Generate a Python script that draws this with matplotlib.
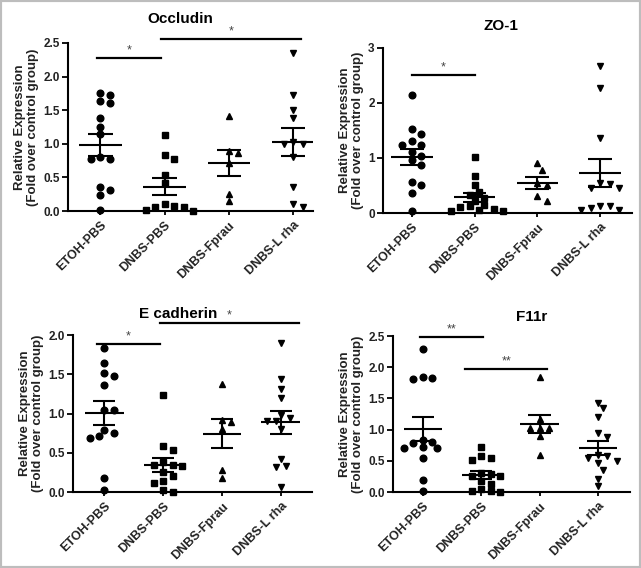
import numpy as np
import matplotlib.pyplot as plt
from matplotlib.patches import Rectangle

plt.rcParams['font.family'] = ['Liberation Sans', 'DejaVu Sans']

groups = ['ETOH-PBS', 'DNBS-PBS', 'DNBS-Fprau', 'DNBS-L rha']
markers = ['o', 's', '^', 'v']
ylab = 'Relative Expression\n(Fold over control group)'

# values
occludin = [
    [1.76, 1.73, 1.64, 1.60, 1.39, 1.25, 1.14, 0.81, 0.78, 0.77, 0.36, 0.31, 0.24, 0.02],
    [1.13, 0.83, 0.78, 0.54, 0.42, 0.10, 0.07, 0.06, 0.06, 0.02, 0.0],
    [1.41, 0.89, 0.87, 0.72, 0.26, 0.15],
    [2.35, 1.73, 1.50, 1.39, 1.02, 1.00, 1.00, 0.81, 0.36, 0.10, 0.06],
]
zo1 = [
    [2.14, 1.53, 1.44, 1.30, 1.23, 1.23, 1.10, 1.04, 0.97, 0.88, 0.57, 0.50, 0.37, 0.03],
    [1.01, 0.68, 0.50, 0.38, 0.33, 0.28, 0.22, 0.15, 0.12, 0.10, 0.08, 0.05, 0.04, 0.03],
    [0.90, 0.78, 0.55, 0.50, 0.30, 0.21],
    [2.67, 2.28, 1.36, 0.54, 0.52, 0.46, 0.46, 0.12, 0.12, 0.09, 0.06, 0.06],
]
ecad = [
    [1.83, 1.64, 1.51, 1.48, 1.36, 1.04, 1.04, 0.79, 0.75, 0.71, 0.69, 0.18, 0.02],
    [1.24, 0.59, 0.53, 0.38, 0.35, 0.35, 0.33, 0.26, 0.20, 0.14, 0.12, 0.03, 0.0],
    [1.38, 0.92, 0.89, 0.80, 0.28, 0.18],
    [1.90, 1.44, 1.31, 1.20, 0.98, 0.94, 0.91, 0.91, 0.80, 0.42, 0.33, 0.32, 0.07],
]
f11r = [
    [2.30, 1.85, 1.82, 1.81, 0.84, 0.80, 0.78, 0.72, 0.70, 0.70, 0.55, 0.19, 0.01],
    [0.72, 0.57, 0.54, 0.51, 0.31, 0.29, 0.26, 0.25, 0.18, 0.13, 0.05, 0.02, 0.01, 0.0],
    [1.85, 1.17, 1.03, 1.02, 1.02, 0.90, 0.60],
    [1.43, 1.34, 1.21, 0.94, 0.88, 0.60, 0.57, 0.55, 0.50, 0.47, 0.36, 0.21, 0.09],
]

# significance bars: (x start, x end, y, label)
occ_sig = [(-0.05, 0.94, 2.28, '*'), (0.94, 3.12, 2.56, '*')]
zo1_sig = [(0.0, 1.0, 2.50, '*')]
ecad_sig = [(-0.13, 0.94, 1.89, '*'), (0.94, 3.31, 2.15, '*')]
f11r_sig = [(-0.04, 1.04, 2.48, '**'), (0.73, 2.13, 1.97, '**')]

W, H = 641, 568
fig = plt.figure(figsize=(W / 100, H / 100), dpi=100)
fig.patches.append(Rectangle((0, 0), 1, 1, transform=fig.transFigure, fill=False,
                             ec='#bdbdbd', lw=3, zorder=10))


def swarm(ax, vals, d):
    xy = ax.transData.transform(np.column_stack([np.zeros(len(vals)), vals]))
    ys = xy[:, 1]
    ppu = ax.transData.transform((1, 0))[0] - ax.transData.transform((0, 0))[0]
    cands = [0.0] + [s * k * d / 2 for k in range(1, 14) for s in (1, -1)]
    placed = []
    offs = np.zeros(len(vals))
    for i in np.argsort(-ys):
        for c in cands:
            if all((c - px) ** 2 + (ys[i] - py) ** 2 >= (0.75 * d) ** 2 for px, py in placed):
                break
        placed.append((c, ys[i]))
        offs[i] = c / ppu
    return offs


def panel(rect, data, title, tx, xlim, ylim, yticks, fmt, sig):
    ax = fig.add_axes(rect)
    ax.set_xlim(*xlim)
    ax.set_ylim(*ylim)
    for sp in ['top', 'right']:
        ax.spines[sp].set_visible(False)
    for sp in ['left', 'bottom']:
        ax.spines[sp].set_linewidth(1.5)
    for i, vals in enumerate(data):
        vals = np.array(vals)
        off = swarm(ax, vals, 9.5)
        ax.plot(i + off, vals, markers[i], color='black', ms=4.8, clip_on=False, zorder=3)
        m = vals.mean()
        se = vals.std(ddof=1) / np.sqrt(len(vals))
        ax.hlines(m, i - 0.33, i + 0.33, color='black', lw=1.5, zorder=4)
        ax.vlines(i, m - se, m + se, color='black', lw=1.5, zorder=4)
        ax.hlines([m - se, m + se], i - 0.19, i + 0.19, color='black', lw=1.5, zorder=4)
    for x0, x1, y, lab in sig:
        ax.plot([x0, x1], [y, y], color='black', lw=1.6, clip_on=False)
        ax.text((x0 + x1) / 2, y + (ylim[1] * 0.01), lab, ha='center', va='bottom',
                fontsize=9, color='#444444')
    ax.set_yticks(yticks)
    ax.set_yticklabels([fmt % v for v in yticks], fontsize=8.5, fontweight='bold', color='#222222')
    ax.set_xticks(range(4))
    ax.set_xticklabels(groups, rotation=45, ha='right', rotation_mode='anchor',
                       fontsize=9, fontweight='bold', color='#222222')
    ax.tick_params(axis='y', length=4, width=1.3, pad=2)
    ax.tick_params(axis='x', length=3, width=1.3, pad=3)
    ax.set_ylabel(ylab, fontsize=9.5, fontweight='bold', color='#222222', labelpad=3,
                  linespacing=1.15)
    ax.text(tx, 1.0, title, transform=ax.transAxes, ha='center', va='bottom',
            fontsize=11, fontweight='bold')
    return ax


a1 = panel([0.1066, 0.6285, 0.3817, 0.2958], occludin, 'Occludin', 0.457,
           (-0.50, 3.31), (0, 2.5), [0, 0.5, 1.0, 1.5, 2.0, 2.5], '%.1f', occ_sig)
a1.texts[-1].set_y(1.10)
a2 = panel([0.5975, 0.6250, 0.3885, 0.2905], zo1, 'ZO-1', 0.474,
           (-0.46, 3.51), (0, 3), [0, 1, 2, 3], '%d', zo1_sig)
a2.texts[-1].set_y(1.09)
a3 = panel([0.1139, 0.1338, 0.3729, 0.2764], ecad, 'E cadherin', 0.44,
           (-0.53, 3.53), (0, 2.0), [0, 0.5, 1.0, 1.5, 2.0], '%.1f', ecad_sig)
a3.texts[-1].set_y(1.09)
a4 = panel([0.6131, 0.1338, 0.3697, 0.2746], f11r, 'F11r', 0.587,
           (-0.51, 3.55), (0, 2.5), [0, 0.5, 1.0, 1.5, 2.0, 2.5], '%.1f', f11r_sig)
a4.texts[-1].set_y(1.08)

fig.savefig('out.png', dpi=100)
